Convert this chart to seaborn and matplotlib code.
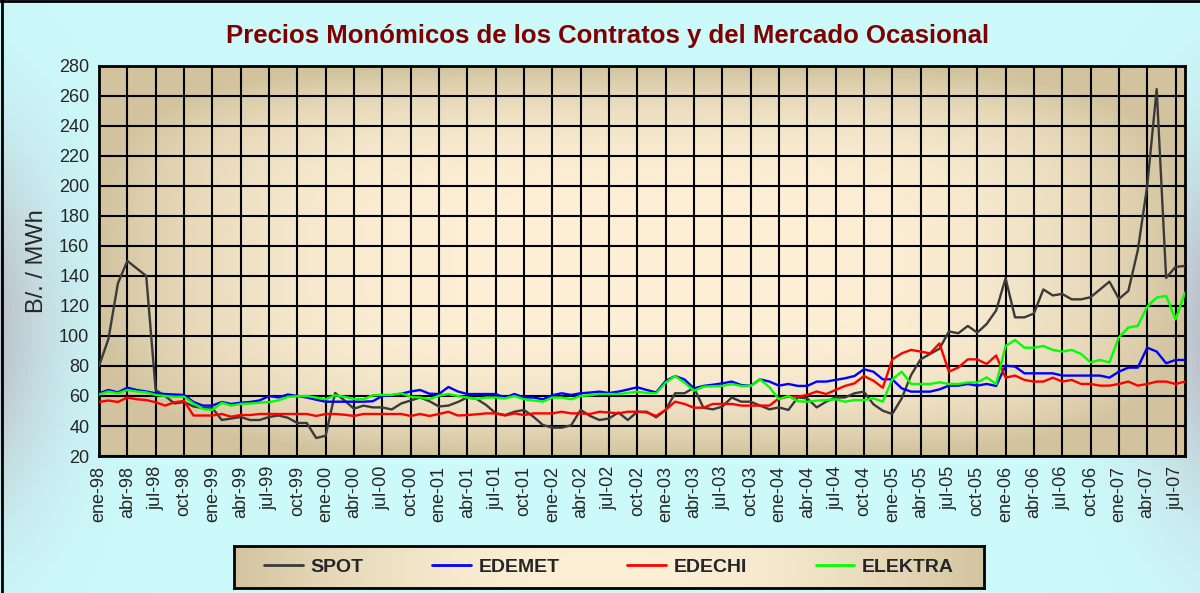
import numpy as np
import pandas as pd
import matplotlib
matplotlib.use('agg')
import matplotlib.pyplot as plt
from matplotlib.lines import Line2D
import seaborn as sns

# monthly labels ene-98 .. ago-07
meses = ['ene', 'feb', 'mar', 'abr', 'may', 'jun', 'jul', 'ago', 'sep', 'oct', 'nov', 'dic']
anios = ['98', '99', '00', '01', '02', '03', '04', '05', '06', '07']

spot = [80, 98, 135, 150, 145, 140, 64, 60, 55, 56, 53, 52,
        52, 44, 45, 46, 44, 44, 46, 47, 45.5, 42, 42, 32,
        33.5, 62, 57, 51.5, 53.6, 52.4, 52.4, 51, 55, 57, 59, 56.5,
        53, 53.6, 56, 59, 58, 54, 48.5, 47.3, 49.5, 50.7, 46.2, 40.7,
        38.9, 38.9, 40.5, 50.7, 46.7, 44, 45, 49, 44, 49.5, 49.5, 45.8,
        50.7, 61.8, 61.8, 65.5, 52.2, 51.1, 52.9, 59, 56.2, 56.2, 53.6, 51.1,
        52.4, 50.7, 59, 58.4, 52.4, 56.2, 59, 59, 61.8, 62.9, 54.5, 50.2,
        48, 58.4, 74, 84.4, 88, 91.5, 103, 101.8, 106.7, 102.2, 108, 117,
        138.4, 112.4, 112.4, 115, 131, 127, 128, 124.4, 124.4, 125.8, 131, 136.2,
        124.7, 130, 157, 200, 264.5, 138.7, 146, 146.7]

edemet = [61.8, 64, 62.4, 65.5, 64, 63, 61.8, 61.3, 61, 60.7, 56, 53.6,
          53.6, 56, 54.7, 55.5, 56, 57, 60, 59, 61, 60, 59, 57.5,
          56.2, 56.2, 56.2, 56.2, 56.2, 56.5, 60, 60.5, 61.5, 63, 64, 61.5,
          61.3, 66, 63, 61.3, 61.3, 61.3, 61.3, 59, 61.3, 59, 59, 57.8,
          60.5, 61.8, 60.7, 61.8, 62.3, 62.9, 62, 62.9, 64.3, 65.8, 64, 62.4,
          70, 73.3, 71, 65.1, 66.7, 67.5, 68.4, 69.6, 67.3, 66.7, 71.1, 69.6,
          66.9, 68, 66.7, 66.7, 69.6, 69.6, 70.7, 71.8, 73.3, 77.8, 76.2, 71.1,
          71.1, 65.1, 62.9, 62.9, 62.9, 64.4, 66.9, 66.9, 68, 66.9, 68, 66.7,
          80.2, 79.6, 75.1, 75.1, 75.1, 75.1, 73.6, 73.6, 73.6, 73.6, 73.6, 72.2,
          76.2, 78.9, 78.9, 92.2, 89.6, 81.8, 84, 84]

edechi = [56, 57, 56, 59, 57.8, 57.3, 55.8, 53.6, 55.8, 56.7, 47, 47,
          47, 48, 46.2, 47.3, 47.3, 48, 48, 48, 48, 48, 48, 46.7,
          48, 48, 47.5, 46.7, 48, 48, 48, 48, 48, 46.7, 48, 46.7,
          48, 49.5, 47, 47.3, 47.8, 48.4, 48.4, 47, 48.4, 47.3, 48.4, 48.4,
          48.4, 49.5, 48.4, 48.4, 48, 49.5, 49, 48.4, 49.5, 49.5, 49, 46.7,
          50.7, 56.2, 54.7, 52.2, 52.2, 54.7, 54.7, 54.7, 53.6, 53.6, 53.6, 53.6,
          58.4, 59.5, 59.5, 60.7, 63, 61.3, 64, 66.7, 68.4, 73.3, 70.2, 65.5,
          84.4, 88.4, 90.7, 89.6, 88.4, 95, 76.2, 79, 84.4, 84.4, 81.3, 87,
          72.2, 73.6, 70.7, 69.6, 69.6, 72.2, 69.6, 70.7, 68, 68, 66.9, 66.9,
          68, 69.6, 66.9, 68, 69.6, 69.6, 68, 69.6]

elektra = [61, 63, 61.8, 64, 63, 62.4, 60.7, 60, 59.5, 59.5, 55, 51.3,
           50.7, 55.5, 53.6, 54.7, 55, 55.5, 56, 57, 59.5, 59.8, 60, 59,
           57.8, 60.5, 59.5, 58, 57.8, 60.5, 60.7, 60.7, 61.8, 59.5, 59, 58,
           60.2, 61.3, 60, 59, 58, 59, 59, 58.4, 60, 57.8, 57, 56.2,
           59, 59, 57.8, 60, 60.5, 61.3, 61.3, 61.3, 62, 62.9, 62, 61.8,
           68.9, 73.3, 68.9, 63.5, 66.2, 66.5, 66.7, 68, 66.7, 66.7, 71.1, 65.8,
           57.8, 60, 56.5, 56.2, 56.9, 57.3, 57.8, 56.2, 57.3, 57.3, 58.4, 56.2,
           71.1, 76.2, 68, 68, 68, 69.1, 68, 68, 69, 69, 72.4, 68,
           93.3, 97.3, 92.2, 92.2, 93.3, 90.7, 89.6, 90.7, 88, 82.4, 84, 82.4,
           99.1, 105.6, 106.7, 119.6, 125.6, 126.7, 111.1, 128.9]

series = ['SPOT', 'EDEMET', 'EDECHI', 'ELEKTRA']
colores = ['#3a3a3a', '#0000ff', '#ff0000', '#00ff00']

etiquetas = [f'{m}-{a}' for a in anios for m in meses][:len(spot)]

df = pd.DataFrame({'mes': range(len(spot)), 'SPOT': spot, 'EDEMET': edemet,
                   'EDECHI': edechi, 'ELEKTRA': elektra})
df = df.melt(id_vars='mes', var_name='serie', value_name='precio')

sns.set_style('white')
plt.rcParams['font.family'] = ['Liberation Sans', 'DejaVu Sans']


def gradient(edge, center, nx=400, ny=200, power=2.2, sy=1.0):
    x = np.linspace(-1, 1, nx)
    y = np.linspace(-1, 1, ny)
    X, Y = np.meshgrid(x, y)
    t = np.clip(np.sqrt(X ** 4 + (Y * sy) ** 4) ** 0.5, 0, 1) ** power
    edge = np.array(edge) / 255
    center = np.array(center) / 255
    return center + (edge - center) * t[..., None]


fig = plt.figure(figsize=(12, 5.93), dpi=100)

# figure background (cyan, greyish at the sides)
bg = fig.add_axes([0, 0, 1, 1], zorder=-10)
xx, yy = np.meshgrid(np.linspace(-1, 1, 300), np.linspace(0, 1, 150))
g = np.clip((np.abs(xx) - 0.75) / 0.25, 0, 1) ** 2 * np.exp(-((yy - 0.55) / 0.3) ** 2)
cyan = np.array([204, 249, 250]) / 255
grey = np.array([190, 194, 204]) / 255
bg.imshow(cyan + (grey - cyan) * g[..., None], aspect='auto', extent=[0, 1, 0, 1])
bg.axis('off')

rect = [0.0825, 0.231, 0.905, 0.658]
gax = fig.add_axes(rect, zorder=0)
gax.imshow(gradient((210, 195, 158), (253, 240, 214), power=3.6), aspect='auto', extent=[0, 1, 0, 1])
gax.axis('off')

ax = fig.add_axes(rect, zorder=1)
ax.patch.set_alpha(0)
sns.lineplot(data=df, x='mes', y='precio', hue='serie', hue_order=series,
             palette=colores, linewidth=1.7, legend=False, ax=ax, zorder=3)

ax.set_xlim(0, len(spot) - 1)
ax.set_ylim(20, 280)
ax.set_xticks(range(0, len(spot), 3))
ax.set_xticklabels(etiquetas[::3], rotation=90, fontsize=13)
ax.set_yticks(range(20, 281, 20))
ax.tick_params(axis='y', labelsize=13)
ax.tick_params(direction='out', length=5, width=1.5, color='black', pad=2)
ax.grid(True, color='black', linewidth=1.5)
for s in ax.spines.values():
    s.set_color('black')
    s.set_linewidth(2)
ax.set_xlabel('')
ax.set_ylabel('B/. / MWh', fontsize=17, labelpad=8)

fig.text(0.506, 0.94, 'Precios Monómicos de los Contratos y del Mercado Ocasional',
         ha='center', va='center', fontsize=18.5, fontweight='bold', color='#800000')

# legend box
lax = fig.add_axes([0.195, 0.009, 0.625, 0.07], zorder=2)
lax.imshow(gradient((210, 196, 160), (253, 240, 214), power=2.0, sy=0.3),
           aspect='auto', extent=[0, 1, 0, 1])
lax.set_xticks([])
lax.set_yticks([])
for s in lax.spines.values():
    s.set_color('black')
    s.set_linewidth(2)
handles = [Line2D([], [], color=c, lw=2) for c in colores]
leg = lax.legend(handles, series, ncol=4, loc='center', frameon=False,
                 prop={'weight': 'bold', 'size': 14}, handlelength=2.0,
                 handletextpad=0.4, columnspacing=3.5)

# outer frame (top and left)
fig.add_artist(Line2D([0, 1], [0.998, 0.998], color='black', lw=2, transform=fig.transFigure))
fig.add_artist(Line2D([0.002, 0.002], [0, 1], color='black', lw=2, transform=fig.transFigure))

fig.savefig('out.png', dpi=100)
